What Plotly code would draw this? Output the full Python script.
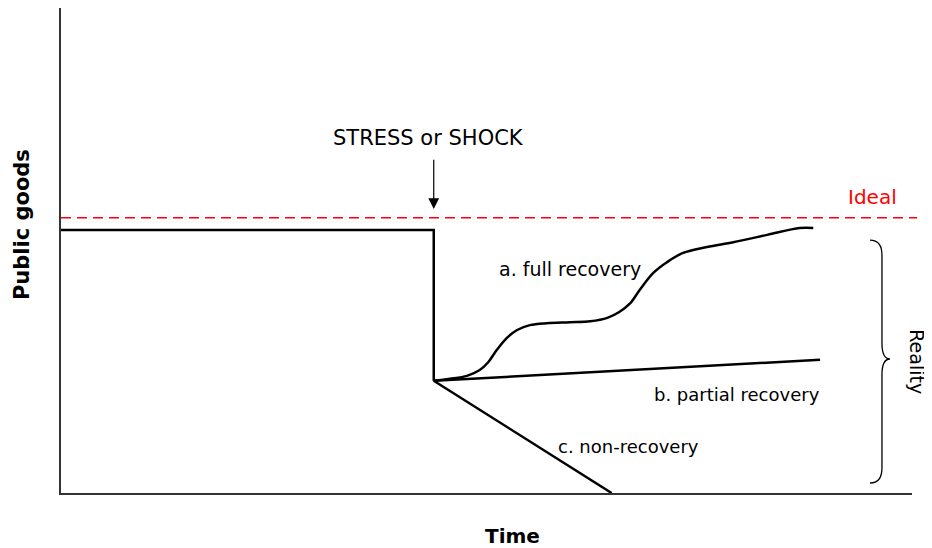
import plotly.graph_objects as go

# ---- data (conceptual units: time 0-100, public goods 0-100) ----
pre_time = [0, 43.8, 43.8]
pre_goods = [53.9, 53.9, 23.0]

full_time = [43.8, 45.7, 47.7, 49.2, 50.2, 51.2, 52.4, 53.6, 55.1, 57.1, 59.8, 62.2,
             64.2, 65.6, 66.9, 68.0, 69.6, 71.2, 73.1, 75.9, 79.0, 83.0, 86.8, 88.4]
full_goods = [23.0, 23.4, 24.0, 25.2, 26.8, 29.3, 31.8, 33.4, 34.4, 34.8, 35.0, 35.2,
              35.9, 37.1, 38.9, 41.6, 45.1, 47.3, 49.2, 50.4, 51.4, 52.9, 54.3, 54.3]

partial_time = [43.8, 89.2]
partial_goods = [23.0, 27.3]

non_time = [43.8, 64.7]
non_goods = [23.0, 0.0]

ideal_level = 56.4

FONT = "DejaVu Sans"
BLACK = "#000000"

fig = go.Figure()
line_style = dict(color=BLACK, width=2.5)
fig.add_trace(go.Scatter(x=pre_time, y=pre_goods, mode="lines", line=line_style,
                         hoverinfo="skip"))
fig.add_trace(go.Scatter(x=full_time, y=full_goods, mode="lines",
                         line=dict(color=BLACK, width=2.5, shape="spline", smoothing=1.0),
                         hoverinfo="skip"))
fig.add_trace(go.Scatter(x=partial_time, y=partial_goods, mode="lines", line=line_style,
                         hoverinfo="skip"))
fig.add_trace(go.Scatter(x=non_time, y=non_goods, mode="lines", line=line_style,
                         hoverinfo="skip"))

shapes = [
    dict(type="line", xref="paper", yref="y", x0=0, x1=1.006, y0=ideal_level, y1=ideal_level,
         line=dict(color="#ff0000", width=1.5, dash="10px,6px")),
    # brace "}"
    dict(type="path", xref="x", yref="y",
         path="M 95.07,51.84 Q 96.47,51.84 96.47,48.77 L 96.47,30.74 Q 96.47,27.46 97.41,27.46 "
              "Q 96.47,27.46 96.47,24.18 L 96.47,5.12 Q 96.47,2.05 95.07,2.05",
         line=dict(color=BLACK, width=1.3)),
]

annotations = [
    dict(x=43.8, y=58.2, ax=43.8, ay=68.6, xref="x", yref="y", axref="x", ayref="y",
         showarrow=True, arrowhead=2, arrowsize=1.8, arrowwidth=1.2, arrowcolor=BLACK, text=""),
    dict(x=43.2, y=72.7, xref="x", yref="y", text="STRESS or SHOCK", showarrow=False,
         font=dict(family=FONT, size=21, color=BLACK)),
    dict(x=95.4, y=60.6, xref="x", yref="y", text="Ideal", showarrow=False,
         font=dict(family=FONT, size=20, color="#ff0000")),
    dict(x=59.8, y=46.0, xref="x", yref="y", text="a. full recovery", showarrow=False,
         font=dict(family=FONT, size=19, color=BLACK)),
    dict(x=79.4, y=20.1, xref="x", yref="y", text="b. partial recovery", showarrow=False,
         font=dict(family=FONT, size=18, color=BLACK)),
    dict(x=66.7, y=9.6, xref="x", yref="y", text="c. non-recovery", showarrow=False,
         font=dict(family=FONT, size=18, color=BLACK)),
    dict(x=1.0, y=27.0, xref="paper", yref="y", xshift=5, xanchor="center", yanchor="middle",
         text="Reality", textangle=90, showarrow=False,
         font=dict(family=FONT, size=19, color=BLACK)),
    dict(x=53.0, y=0, xref="x", yref="paper", yshift=-43, yanchor="middle",
         text="<b>Time</b>", showarrow=False, font=dict(family=FONT, size=20, color=BLACK)),
    dict(x=0, y=54.9, xref="paper", yref="y", xshift=-39, xanchor="center", yanchor="middle",
         text="<b>Public goods</b>", textangle=-90, showarrow=False,
         font=dict(family=FONT, size=21, color=BLACK)),
]

# the page body adds an 8px offset, so the figure is sized to fit the 932x548 window
fig.update_layout(
    width=924, height=540,
    margin=dict(l=53, r=20, t=0, b=55),
    paper_bgcolor="white", plot_bgcolor="white",
    showlegend=False,
    shapes=shapes,
    annotations=annotations,
    xaxis=dict(range=[0, 100], showgrid=False, zeroline=False, showticklabels=False,
               ticks="", showline=True, linecolor="#333333", linewidth=1.5),
    yaxis=dict(range=[0, 99.39], showgrid=False, zeroline=False, showticklabels=False,
               ticks="", showline=True, linecolor="#333333", linewidth=1.5),
)

fig.write_html("out.html")
